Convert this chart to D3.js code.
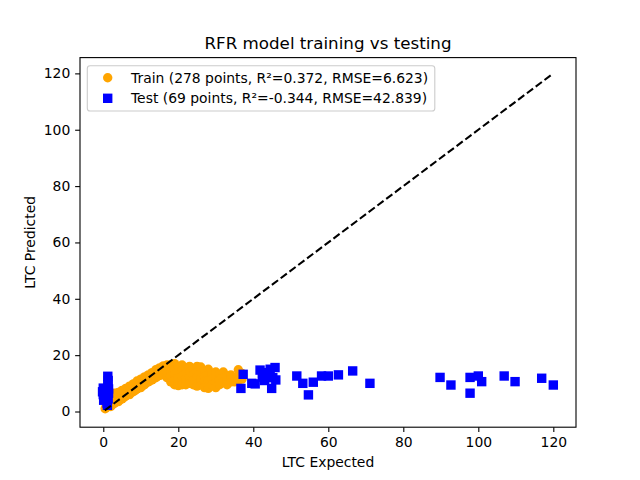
<!DOCTYPE html>
<html>
<head>
<meta charset="utf-8">
<script src="https://cdn.jsdelivr.net/npm/d3@7"></script>
<style>
  body { margin: 0; background: #fff; }
  svg { font-family: "DejaVu Sans", sans-serif; }
</style>
</head>
<body>
<div id="chart"></div>
<script>
// Datos: [esperado, predicho]
const trainPoints = [
  [0.5, 1.0], [1, 1.5], [1, 3], [1.5, 2.5], [1.5, 4.5], [2, 1.8], [2, 3.5], [2, 5.5],
  [2.5, 2.5], [2.5, 4.5], [3, 3], [3, 5], [3, 6.5], [3.5, 4], [3.5, 5.8], [4, 3.5],
  [4, 5], [4, 6.8], [4.5, 4.2], [4.5, 6], [5, 4.5], [5, 6], [5, 7.5], [5.5, 5], [5.5, 7],
  [6, 5.5], [6, 7], [6, 8.2], [6.5, 6], [6.5, 7.8], [7, 6], [7, 7.5], [7, 9], [7.5, 6.8],
  [7.5, 8.5], [8, 7], [8, 8.5], [8, 9.8], [8.5, 7.5], [8.5, 9.2], [9, 8], [9, 9.5],
  [9, 10.8], [9.5, 8.5], [9.5, 10.2], [10, 8.5], [10, 10], [10, 11.5], [10.5, 9.2],
  [10.5, 11], [11, 9.5], [11, 11], [11, 12.3], [11.5, 10.2], [11.5, 11.8], [12, 10.5],
  [12, 12], [12, 13], [12.5, 11], [12.5, 12.6], [13, 11.2], [13, 12.5], [13, 13.8],
  [13.5, 11.8], [13.5, 13.2], [14, 12], [14, 13.5], [14, 14.8], [14.5, 12.5], [14.5, 14],
  [15, 12.8], [15, 14.2], [15, 15.5], [15.5, 13], [15.5, 15], [16, 13.2], [16, 14.8],
  [16, 16.2], [16.5, 13.5], [16.5, 15.5], [17, 12], [17, 14], [17, 16.5],
  [18, 16.5], [18, 14.5], [18, 12.5], [18, 10.5],
  [19, 17], [19, 15], [19, 13], [19, 11], [19, 9.5],
  [20, 16], [20, 14], [20, 12], [20, 10], [20, 9.2],
  [21, 16.5], [21, 14.5], [21, 12.5], [21, 10.5], [21, 9.5],
  [22, 15.5], [22, 13.5], [22, 11.5], [22, 9.5],
  [23, 16], [23, 14], [23, 12], [23, 10],
  [24, 15], [24, 13], [24, 11], [24, 9.5],
  [25, 16], [25, 14], [25, 12], [25, 10], [25, 9],
  [26, 15.8], [26, 13.5], [26, 11.5], [26, 9.5],
  [27, 14.5], [27, 12.5], [27, 10.5], [27, 8.5],
  [28, 15], [28, 13], [28, 11], [28, 9], [28, 8.2],
  [29, 13.5], [29, 11.5], [29, 9.5],
  [30, 14], [30, 12], [30, 10], [30, 8.5],
  [31, 13], [31, 11], [31, 9.5],
  [32, 14], [32, 12], [32, 10.5],
  [33, 12.5], [33, 11], [33, 9.5],
  [34, 13], [34, 11.5], [34, 10.5],
  [35, 12], [35, 10.5],
  [36, 14.8], [36, 12.5], [36, 11],
  [37, 13.5], [37, 11.5]
];

const testPoints = [
  [1.2, 12.5], [1.3, 11], [1.2, 9.5], [1.4, 8], [0, 8.3], [-0.2, 7], [0, 6], [0.3, 5],
  [0.1, 4], [1.0, 3], [1.3, 4.5], [1.4, 6.5], [0.5, 7.5], [1.1, 2.2], [0.8, 5.5],
  [37.3, 13.2], [36.7, 8.2], [39.6, 10.0], [41.8, 14.7], [42.4, 12.2], [43.5, 13.8],
  [44.5, 15.0], [45.8, 15.6], [45.2, 12.0], [46.0, 11.2], [44.9, 8.2], [43, 11], [40.5, 9.8],
  [51.6, 12.6], [53.2, 10], [54.7, 5.9], [56, 10.4], [58.2, 12.6], [60, 12.6], [62.7, 13],
  [66.5, 14.4], [71.1, 10], [89.8, 12.1], [92.7, 9.4], [97.8, 12.1], [97.8, 6.5],
  [100, 12.6], [100.9, 10.6], [106.9, 12.6], [109.8, 10.6], [116.9, 11.8], [120, 9.4]
];

const idealLine = [0.4, 119.6];
const ticks = [0, 20, 40, 60, 80, 100, 120];
const legendLabels = [
  'Train (278 points, R²=0.372, RMSE=6.623)',
  'Test (69 points, R²=-0.344, RMSE=42.839)'
];

const W = 640, H = 480;
const margin = {left: 80, right: 64, top: 57.6, bottom: 52.8};
const width = W - margin.left - margin.right;
const height = H - margin.top - margin.bottom;

const svg = d3.select('#chart').append('svg')
  .attr('width', W).attr('height', H);

const g = svg.append('g')
  .attr('transform', `translate(${margin.left},${margin.top})`);

const x = d3.scaleLinear().domain([-6.21, 126.05]).range([0, width]);
const y = d3.scaleLinear().domain([-5.57, 125.6]).range([height, 0]);

g.append('defs').append('clipPath').attr('id', 'clip')
  .append('rect').attr('width', width).attr('height', height);

const plot = g.append('g').attr('clip-path', 'url(#clip)');

// Puntos de entrenamiento
plot.selectAll('.train')
  .data(trainPoints)
  .enter()
  .append('circle')
  .attr('class', 'train')
  .attr('cx', d => x(d[0]))
  .attr('cy', d => y(d[1]))
  .attr('r', 4.7)
  .attr('fill', '#ffa500');

// Puntos de test
const sq = 9.4;
plot.selectAll('.test')
  .data(testPoints)
  .enter()
  .append('rect')
  .attr('class', 'test')
  .attr('x', d => x(d[0]) - sq / 2)
  .attr('y', d => y(d[1]) - sq / 2)
  .attr('width', sq)
  .attr('height', sq)
  .attr('fill', '#0000ff');

// Línea ideal y = x
plot.append('line')
  .attr('x1', x(idealLine[0]))
  .attr('y1', y(idealLine[0]))
  .attr('x2', x(idealLine[1]))
  .attr('y2', y(idealLine[1]))
  .attr('stroke', '#000')
  .attr('stroke-width', 2.08)
  .attr('stroke-dasharray', '7.7,3.3');

// Ejes
const xAxis = g.append('g')
  .attr('transform', `translate(0,${height})`)
  .call(d3.axisBottom(x).tickValues(ticks).tickSize(4.86).tickPadding(4.86).tickSizeOuter(0));
const yAxis = g.append('g')
  .call(d3.axisLeft(y).tickValues(ticks).tickSize(4.86).tickPadding(4.86).tickSizeOuter(0));

[xAxis, yAxis].forEach(a => {
  a.select('.domain').remove();
  a.selectAll('line').attr('stroke', '#000').attr('stroke-width', 1.1);
  a.selectAll('text')
    .attr('fill', '#000')
    .style('font-size', '13.9px')
    .style('font-family', '"DejaVu Sans", sans-serif');
});

// Marco
g.append('rect')
  .attr('width', width).attr('height', height)
  .attr('fill', 'none').attr('stroke', '#000').attr('stroke-width', 1.1);

// Títulos
svg.append('text')
  .attr('x', margin.left + width / 2).attr('y', 49)
  .attr('text-anchor', 'middle')
  .style('font-size', '16.7px')
  .text('RFR model training vs testing');

svg.append('text')
  .attr('x', margin.left + width / 2).attr('y', 467)
  .attr('text-anchor', 'middle')
  .style('font-size', '13.9px')
  .text('LTC Expected');

svg.append('text')
  .attr('transform', `translate(35,${margin.top + height / 2}) rotate(-90)`)
  .attr('text-anchor', 'middle')
  .style('font-size', '13.9px')
  .text('LTC Predicted');

// Leyenda
const legend = svg.append('g');
legend.append('rect')
  .attr('x', 87.3).attr('y', 65.8)
  .attr('width', 347.5).attr('height', 45.2)
  .attr('rx', 2.8)
  .attr('fill', '#fff').attr('fill-opacity', 0.8)
  .attr('stroke', '#cccccc').attr('stroke-width', 1.1);

legend.append('circle')
  .attr('cx', 107.7).attr('cy', 77.7).attr('r', 4.7)
  .attr('fill', '#ffa500');
legend.append('rect')
  .attr('x', 107.7 - sq / 2).attr('y', 98.3 - sq / 2)
  .attr('width', sq).attr('height', sq)
  .attr('fill', '#0000ff');

legend.selectAll('.leg-text')
  .data(legendLabels)
  .enter()
  .append('text')
  .attr('class', 'leg-text')
  .attr('x', 131)
  .attr('y', (d, i) => 82.6 + i * 20.6)
  .style('font-size', '13.9px')
  .text(d => d);
</script>
</body>
</html>
